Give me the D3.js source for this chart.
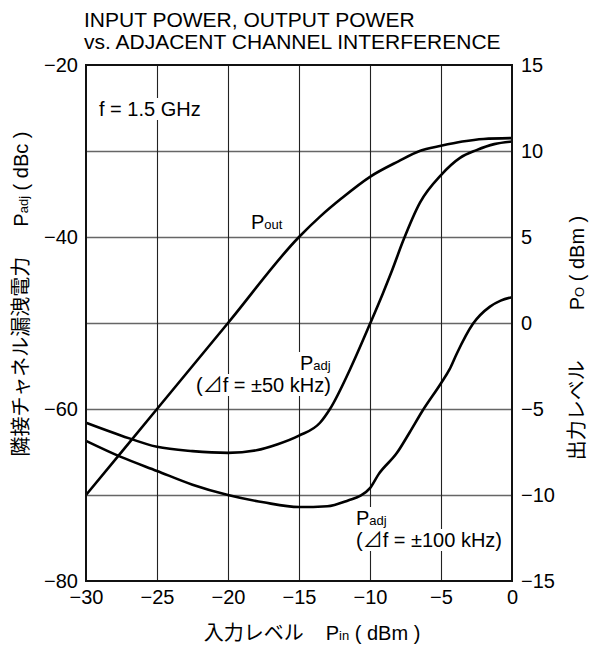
<!DOCTYPE html>
<html><head><meta charset="utf-8">
<script src="https://cdn.jsdelivr.net/npm/d3@7"></script>
<style>body{margin:0;background:#fff}svg{display:block}text{font-family:"Liberation Sans","Noto Sans CJK JP",sans-serif;fill:#000}</style>
</head><body>
<script>
// ---- data ----
const pinTicks = [-30, -25, -20, -15, -10, -5, 0];
const padjTicks = [-80, -60, -40, -20];
const padjGrid = [-70, -60, -50, -40, -30];
const poutTicks = [-15, -10, -5, 0, 5, 10, 15];

const pinPout = [-30, -25, -20, -15, -13.5, -12, -10, -8, -6.5, -5, -3.5, -2, 0];
const pout    = [-10, -5, 0, 5, 6.2, 7.25, 8.5, 9.4, 10.0, 10.3, 10.55, 10.7, 10.75];

const pin50 = [-30, -27.5, -25, -22.5, -20, -18, -16.5, -15, -13.52, -12.82, -11.41, -10, -9.08, -8.45, -7.68, -6.48, -5, -3.66, -2.5, -1.25, 0];
const padj50 = [-61.6, -63.1, -64.4, -64.9, -65.1, -64.8, -64.1, -63.1, -61.6, -60.0, -55.4, -50.1, -46.5, -43.9, -40.5, -36.0, -32.8, -30.8, -29.9, -29.2, -28.9];

const pin100 = [-30, -27.5, -25, -22.5, -20, -17.5, -15, -13, -11.5, -10.7, -10, -9.4, -8.1, -7.2, -6.3, -5, -4.4, -3.9, -2.75, -1.55, -0.8, 0];
const padj100 = [-63.7, -65.6, -67.2, -68.8, -70.0, -70.85, -71.4, -71.3, -70.6, -70.1, -69.2, -67.6, -65.1, -62.7, -60.2, -57.0, -55.4, -53.6, -50.1, -48.1, -47.4, -47.0];

// ---- layout ----
const W = 594, H = 650;
const L = 86, R = 512, T = 65, B = 581;
const FS = 20;

const svg = d3.select("body").append("svg").attr("width", W).attr("height", H);
const x = d3.scaleLinear().domain([-30, 0]).range([L, R]);
const yL = d3.scaleLinear().domain([-80, -20]).range([B, T]);
const yR = d3.scaleLinear().domain([-15, 15]).range([B, T]);

// grid
const gGrid = svg.append("g");
gGrid.append("g").attr("transform", `translate(${L},0)`)
  .call(d3.axisLeft(yL).tickValues(padjGrid).tickSize(-(R - L)).tickFormat(""))
  .call(g => g.select(".domain").remove())
  .call(g => g.selectAll("line").attr("stroke", "#666").attr("stroke-width", 1.6));
gGrid.append("g").attr("transform", `translate(0,${B})`)
  .call(d3.axisBottom(x).tickValues(pinTicks.slice(1, -1)).tickSize(-(B - T)).tickFormat(""))
  .call(g => g.select(".domain").remove())
  .call(g => g.selectAll("line").attr("stroke", "#222").attr("stroke-width", 1.1));

const gBoxes = svg.append("g");
const gCurves = svg.append("g");
const gText = svg.append("g");

// curves
const lineL = d3.line().x(d => x(d[0])).y(d => yL(d[1])).curve(d3.curveMonotoneX);
const lineR = d3.line().x(d => x(d[0])).y(d => yR(d[1])).curve(d3.curveMonotoneX);
const curveStyle = p => p.attr("fill", "none").attr("stroke", "#000").attr("stroke-width", 2.6).attr("stroke-linejoin", "round");
gCurves.append("path").attr("d", lineR(d3.zip(pinPout, pout))).call(curveStyle);
gCurves.append("path").attr("d", lineL(d3.zip(pin50, padj50))).call(curveStyle);
gCurves.append("path").attr("d", lineL(d3.zip(pin100, padj100))).call(curveStyle);

// border
svg.append("rect").attr("x", L).attr("y", T).attr("width", R - L).attr("height", B - T)
  .attr("fill", "none").attr("stroke", "#111").attr("stroke-width", 2);

// axes (labels only)
const tickStyle = g => {
  g.select(".domain").remove();
  g.selectAll("line").remove();
  g.selectAll("text").attr("font-size", FS).attr("font-family", null);
};
svg.append("g").attr("transform", `translate(${L},0)`)
  .call(d3.axisLeft(yL).tickValues(padjTicks).tickSize(0).tickPadding(8)).call(tickStyle);
svg.append("g").attr("transform", `translate(${R},0)`)
  .call(d3.axisRight(yR).tickValues(poutTicks).tickSize(0).tickPadding(9)).call(tickStyle);
svg.append("g").attr("transform", `translate(0,${B})`)
  .call(d3.axisBottom(x).tickValues(pinTicks).tickSize(0).tickPadding(9)).call(tickStyle);

// helper: text with subscript
function label(parent, px, py, parts, opts = {}) {
  const t = parent.append("text").attr("x", px).attr("y", py).attr("font-size", opts.fs || FS)
    .attr("text-anchor", opts.anchor || "start");
  if (opts.transform) t.attr("transform", opts.transform);
  parts.forEach(p => {
    const s = t.append("tspan").text(p.t);
    if (p.sub) s.attr("font-size", 13);
    if (p.dx) s.attr("dx", p.dx);
  });
  if (opts.box) {
    const bb = t.node().getBBox();
    gBoxes.append("rect").attr("x", bb.x - 3).attr("y", bb.y)
      .attr("width", bb.width + 6).attr("height", bb.height).attr("fill", "#fff");
  }
  return t;
}

// title
label(svg, 84, 27, [{t: "INPUT POWER, OUTPUT POWER"}], {fs: 21});
label(svg, 84, 49, [{t: "vs. ADJACENT CHANNEL INTERFERENCE"}], {fs: 21});

// in-plot labels
label(gText, 99, 116, [{t: "f = 1.5 GHz"}], {box: true});
label(gText, 251, 229, [{t: "P"}, {t: "out", sub: true}], {box: true});
label(gText, 300, 370, [{t: "P"}, {t: "adj", sub: true}], {box: true});
label(gText, 196, 392, [{t: "(⊿f = ±50 kHz)"}], {box: true});
label(gText, 356, 525, [{t: "P"}, {t: "adj", sub: true}], {box: true});
label(gText, 356, 547, [{t: "(⊿f = ±100 kHz)"}], {box: true});

// axis titles
label(svg, 0, 0, [{t: "隣接チャネル漏洩電力"}, {t: "P", dx: 30}, {t: "adj", sub: true}, {t: " ( dBc )"}],
  {anchor: "middle", transform: "translate(28,294) rotate(-90)"});
label(svg, 0, 0, [{t: "出力レベル"}, {t: "P", dx: 50}, {t: "O", sub: true}, {t: " ( dBm )"}],
  {anchor: "middle", transform: "translate(584,338) rotate(-90)"});
label(svg, 312, 640, [{t: "入力レベル"}, {t: "P", dx: 22}, {t: "in", sub: true}, {t: " ( dBm )"}],
  {anchor: "middle"});
</script>
</body></html>
